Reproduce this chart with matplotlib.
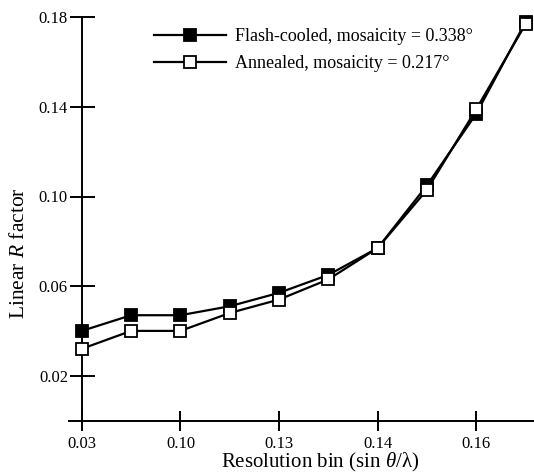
import matplotlib
matplotlib.use("Agg")
import matplotlib.pyplot as plt

plt.rcParams['font.family'] = ['Liberation Serif', 'DejaVu Serif']
plt.rcParams['mathtext.fontset'] = 'custom'
plt.rcParams['mathtext.rm'] = 'Liberation Serif'
plt.rcParams['mathtext.it'] = 'Liberation Serif:italic'

# Data
bins = list(range(10))
tick_positions = [0, 2, 4, 6, 8]
tick_labels = ["0.03", "0.10", "0.13", "0.14", "0.16"]
flash_cooled = [0.040, 0.047, 0.047, 0.051, 0.057, 0.065, 0.077, 0.105, 0.137, 0.178]
annealed = [0.032, 0.040, 0.040, 0.048, 0.054, 0.063, 0.077, 0.103, 0.139, 0.177]
y_ticks = [0.02, 0.06, 0.10, 0.14, 0.18]
y_tick_labels = ["0.02", "0.06", "0.10", "0.14", "0.18"]

W, H = 534, 474
fig = plt.figure(figsize=(W / 100, H / 100), dpi=100)
ax = fig.add_axes([69 / W, (H - 420.5) / H, 465 / W, (420.5 - 17.3) / H])

ax.plot(bins, flash_cooled, color='black', lw=1.6, marker='s', ms=8.5,
        mfc='black', mec='black', mew=1.3, clip_on=False, zorder=3,
        label="Flash-cooled, mosaicity = 0.338°")
ax.plot(bins, annealed, color='black', lw=1.6, marker='s', ms=8.5,
        mfc='white', mec='black', mew=1.3, clip_on=False, zorder=4,
        label="Annealed, mosaicity = 0.217°")

ax.set_xlim(-0.26, 9.17)
ax.set_ylim(0, 0.18)

for s in ['top', 'right']:
    ax.spines[s].set_visible(False)
ax.spines['left'].set_position(('data', 0))
ax.spines['left'].set_linewidth(1.4)
ax.spines['bottom'].set_linewidth(1.4)

ax.set_xticks(tick_positions)
ax.set_xticklabels(tick_labels, fontsize=12)
ax.set_yticks(y_ticks)
ax.set_yticklabels(y_tick_labels, fontsize=12)
ax.tick_params(axis='x', direction='inout', length=14, width=1.4, pad=4)
ax.tick_params(axis='y', direction='inout', length=18, width=1.4, pad=1)

fig.text(20 / W, 1 - 253 / H, "Linear $R$ factor", rotation=90,
         ha='center', va='center', fontsize=15.5)
fig.text(320 / W, 1 - 462 / H, r"Resolution bin (sin $\theta$/$\mathrm{\lambda}$)",
         ha='center', va='center', fontsize=15)

leg = ax.legend(loc='upper left', bbox_to_anchor=(0.1585, 1.0),
                frameon=False, fontsize=13, handlelength=4.0,
                handletextpad=0.5, labelspacing=0.55, borderaxespad=0.2)

fig.savefig("out.png", dpi=100)
